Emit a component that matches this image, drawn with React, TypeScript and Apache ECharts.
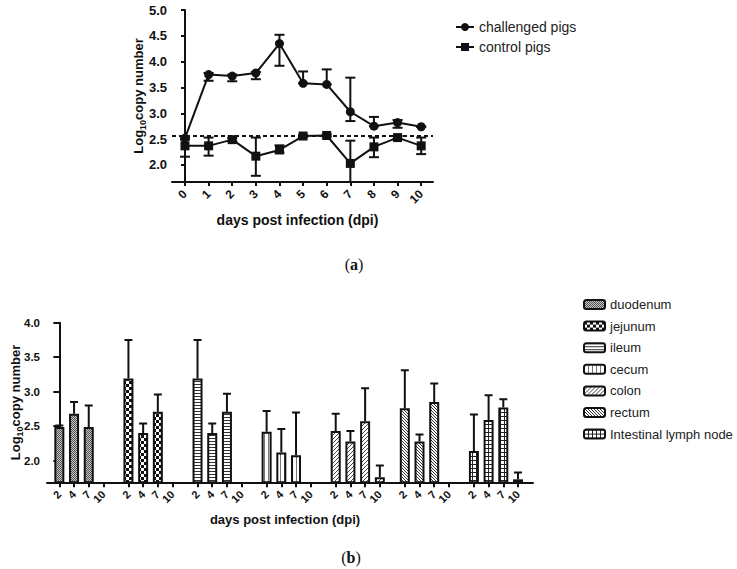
import React, { useEffect, useRef } from "react";
import * as echarts from "echarts";

// ---------- Panel (a) data ----------
const days = [0, 1, 2, 3, 4, 5, 6, 7, 8, 9, 10];
const challenged = [2.52, 3.75, 3.72, 3.78, 4.35, 3.58, 3.56, 3.03, 2.75, 2.82, 2.74];
const challengedLow = [2.49, 3.63, 3.62, 3.66, 3.92, 3.58, 3.56, 2.85, 2.75, 2.72, 2.74];
const challengedHigh = [2.55, 3.78, 3.75, 3.8, 4.52, 3.81, 3.85, 3.69, 2.93, 2.87, 2.74];
const control = [2.37, 2.37, 2.49, 2.17, 2.29, 2.56, 2.57, 2.03, 2.35, 2.53, 2.37];
const controlLow = [2.16, 2.18, 2.46, 1.79, 2.24, 2.54, 2.55, 1.55, 2.15, 2.5, 2.21];
const controlHigh = [2.53, 2.53, 2.52, 2.53, 2.38, 2.58, 2.59, 2.47, 2.53, 2.56, 2.53];
const detectionLimit = 2.56;
const yTicksA = [2.0, 2.5, 3.0, 3.5, 4.0, 4.5, 5.0];

// ---------- Panel (b) data ----------
const tissues = ["duodenum", "jejunum", "ileum", "cecum", "colon", "rectum", "Intestinal lymph node"];
const tissueDays = ["2", "4", "7", "10"];
const duodenum = [2.49, 2.68, 2.49, 1.7];
const duodenumErr = [0.02, 0.17, 0.31, 0];
const jejunum = [3.19, 2.4, 2.71, 1.7];
const jejunumErr = [0.56, 0.14, 0.25, 0];
const ileum = [3.19, 2.4, 2.71, 1.7];
const ileumErr = [0.56, 0.14, 0.26, 0];
const cecum = [2.42, 2.12, 2.08, 1.7];
const cecumErr = [0.3, 0.34, 0.62, 0];
const colon = [2.43, 2.28, 2.57, 1.76];
const colonErr = [0.25, 0.15, 0.48, 0.17];
const rectum = [2.76, 2.28, 2.85, 1.7];
const rectumErr = [0.55, 0.1, 0.27, 0];
const lymphNode = [2.14, 2.59, 2.77, 1.73];
const lymphNodeErr = [0.53, 0.36, 0.12, 0.1];
const yTicksB = [2.0, 2.5, 3.0, 3.5, 4.0];

const tissueValues = [duodenum, jejunum, ileum, cecum, colon, rectum, lymphNode];
const tissueErrs = [duodenumErr, jejunumErr, ileumErr, cecumErr, colonErr, rectumErr, lymphNodeErr];

const FONT = "'Liberation Sans', Arial, sans-serif";
const INK = "#111";
const GROUP_STEP = 4.7;
const X_MAX_B = 32.22;
const slot = (g: number, k: number) => Math.round((g * GROUP_STEP + k) * 100) / 100;

function pattern(w: number, h: number, draw: (ctx: CanvasRenderingContext2D) => void) {
  const c = document.createElement("canvas");
  c.width = w;
  c.height = h;
  const ctx = c.getContext("2d")!;
  ctx.fillStyle = "#fff";
  ctx.fillRect(0, 0, w, h);
  draw(ctx);
  return { image: c.toDataURL(), repeat: "repeat", imageWidth: w, imageHeight: h } as any;
}

function makePatterns() {
  return [
    // duodenum: fine gray stipple
    pattern(2, 2, (ctx) => {
      ctx.fillStyle = "#c4c4c4";
      ctx.fillRect(0, 0, 2, 2);
      ctx.fillStyle = "#555";
      ctx.fillRect(0, 0, 1, 1);
      ctx.fillRect(1, 1, 1, 1);
    }),
    // jejunum: bold checker
    pattern(6, 6, (ctx) => {
      ctx.fillStyle = "#111";
      ctx.fillRect(0, 0, 3, 3);
      ctx.fillRect(3, 3, 3, 3);
    }),
    // ileum: horizontal lines
    pattern(4, 3, (ctx) => {
      ctx.fillStyle = "#333";
      ctx.fillRect(0, 0, 4, 1);
    }),
    // cecum: vertical lines
    pattern(4, 4, (ctx) => {
      ctx.fillStyle = "#777";
      ctx.fillRect(0, 0, 1, 4);
    }),
    // colon: forward diagonal
    pattern(4, 4, (ctx) => {
      ctx.fillStyle = "#444";
      for (let i = 0; i < 4; i++) ctx.fillRect(i, 3 - i, 1, 1);
    }),
    // rectum: back diagonal
    pattern(3, 3, (ctx) => {
      ctx.fillStyle = "#333";
      for (let i = 0; i < 3; i++) ctx.fillRect(i, i, 1, 1);
    }),
    // lymph node: grid
    pattern(4, 4, (ctx) => {
      ctx.fillStyle = "#222";
      ctx.fillRect(0, 0, 4, 1);
      ctx.fillRect(0, 0, 1, 4);
    }),
  ];
}

const yName = "{t|Log}{s|10}{t|copy number}";
const yNameRich = {
  t: { fontFamily: FONT, fontWeight: "bold", fontSize: 13, color: INK, lineHeight: 18, verticalAlign: "middle" },
  s: { fontFamily: FONT, fontWeight: "bold", fontSize: 9, color: INK, lineHeight: 9, verticalAlign: "bottom" },
};

export default function App() {
  const ref = useRef<HTMLDivElement>(null);
  useEffect(() => {
    if (!ref.current) return;
    const chart = echarts.init(ref.current, undefined, { renderer: "svg" });
    const pats = makePatterns();
    const slots = tissues.flatMap((_, g) => tissueDays.map((_, k) => slot(g, k)));
    const slotLabel = (v: number) => {
      const i = slots.findIndex((s) => Math.abs(s - v) < 0.01);
      return i < 0 ? "" : tissueDays[i % 4];
    };

    const errBarsA = (low: number[], high: number[]) =>
      days.map((d, i) => [d, low[i], high[i]]);

    const renderErrA = (params: any, api: any) => {
      const x = api.value(0);
      const lo = api.coord([x, api.value(1)]);
      const hi = api.coord([x, api.value(2)]);
      const st = { stroke: INK, lineWidth: 2 };
      return {
        type: "group",
        children: [
          { type: "line", shape: { x1: lo[0], y1: lo[1], x2: hi[0], y2: hi[1] }, style: st },
          { type: "line", shape: { x1: lo[0] - 5, y1: lo[1], x2: lo[0] + 5, y2: lo[1] }, style: st },
          { type: "line", shape: { x1: hi[0] - 5, y1: hi[1], x2: hi[0] + 5, y2: hi[1] }, style: st },
        ],
      };
    };

    const renderErrB = (params: any, api: any) => {
      const x = api.value(0);
      const lo = api.coord([x, api.value(1)]);
      const hi = api.coord([x, api.value(2)]);
      const st = { stroke: INK, lineWidth: 2 };
      return {
        type: "group",
        children: [
          { type: "line", shape: { x1: lo[0], y1: lo[1], x2: hi[0], y2: hi[1] }, style: st },
          { type: "line", shape: { x1: hi[0] - 4, y1: hi[1], x2: hi[0] + 4, y2: hi[1] }, style: st },
        ],
      };
    };

    const errDataB: number[][] = [];
    tissueValues.forEach((vals, g) =>
      vals.forEach((v, k) => {
        const e = tissueErrs[g][k];
        if (e > 0) errDataB.push([slot(g, k), v, v + e]);
      })
    );

    const axisLine = { show: true, lineStyle: { color: INK, width: 2 } };
    const tickStyle = { color: INK, width: 2 };

    const option: any = {
      animation: false,
      backgroundColor: "#fff",
      grid: [
        { left: 172, top: 10, width: 261, height: 172, containLabel: false, outerBoundsMode: "none" },
        { left: 47, top: 322.7, width: 486, height: 159.6, containLabel: false, outerBoundsMode: "none" },
      ],
      legend: [
        {
          data: ["challenged pigs", "control pigs"],
          orient: "vertical",
          left: 450,
          top: 15,
          itemWidth: 18,
          itemHeight: 10,
          itemGap: 6,
          textStyle: { fontFamily: FONT, fontSize: 14, color: "#222" },
          selectedMode: false,
        },
        {
          data: tissues,
          orient: "vertical",
          left: 578,
          top: 293,
          itemWidth: 21,
          itemHeight: 9,
          itemGap: 8.6,
          textStyle: { fontFamily: FONT, fontSize: 13, color: "#222" },
          selectedMode: false,
        },
      ],
      xAxis: [
        {
          type: "value",
          gridIndex: 0,
          min: -0.55,
          max: 10.5,
          axisLine,
          axisTick: { show: true, customValues: days, length: 4, lineStyle: tickStyle },
          axisLabel: {
            customValues: days,
            rotate: 45,
            margin: 10,
            showMinLabel: true,
            showMaxLabel: true,
            hideOverlap: false,
            fontFamily: FONT,
            fontWeight: "bold",
            fontSize: 12,
            color: INK,
          },
          splitLine: { show: false },
          name: "days post infection (dpi)",
          nameLocation: "middle",
          nameGap: 31,
          nameMoveOverlap: false,
          nameTextStyle: {
            fontFamily: FONT,
            fontWeight: "bold",
            fontSize: 14,
            color: INK,
            verticalAlign: "top",
            padding: [0, 10, 0, 0],
          },
        },
        {
          type: "value",
          gridIndex: 1,
          min: -0.84,
          max: X_MAX_B,
          axisLine,
          axisTick: { show: true, customValues: slots, length: 5, lineStyle: tickStyle },
          axisLabel: {
            customValues: [...slots, X_MAX_B],
            formatter: (v: number) => slotLabel(v),
            rotate: 45,
            margin: 10,
            showMinLabel: true,
            hideOverlap: false,
            fontFamily: FONT,
            fontWeight: "bold",
            fontSize: 11,
            color: INK,
          },
          splitLine: { show: false },
          name: "days post infection (dpi)",
          nameLocation: "middle",
          nameGap: 31,
          nameMoveOverlap: false,
          nameTextStyle: {
            fontFamily: FONT,
            fontWeight: "bold",
            fontSize: 13,
            color: INK,
            verticalAlign: "top",
            padding: [0, 10, 0, 0],
          },
        },
      ],
      yAxis: [
        {
          type: "value",
          gridIndex: 0,
          min: 1.67,
          max: 5,
          axisLine,
          axisTick: { show: true, customValues: yTicksA, length: 4, lineStyle: tickStyle },
          axisLabel: {
            customValues: yTicksA,
            formatter: (v: number) => v.toFixed(1),
            margin: 5,
            showMinLabel: true,
            showMaxLabel: true,
            fontFamily: FONT,
            fontWeight: "bold",
            fontSize: 13,
            color: INK,
          },
          splitLine: { show: false },
          name: yName,
          nameLocation: "middle",
          nameGap: 25,
          nameMoveOverlap: false,
          nameTextStyle: { rich: yNameRich },
        },
        {
          type: "value",
          gridIndex: 1,
          min: 1.687,
          max: 4,
          axisLine,
          axisTick: { show: true, customValues: yTicksB, length: 6, lineStyle: tickStyle },
          axisLabel: {
            customValues: yTicksB,
            formatter: (v: number) => v.toFixed(1),
            margin: 7,
            showMinLabel: true,
            showMaxLabel: true,
            fontFamily: FONT,
            fontWeight: "bold",
            fontSize: 11.5,
            color: INK,
          },
          splitLine: { show: false },
          name: yName,
          nameLocation: "middle",
          nameGap: 23,
          nameMoveOverlap: false,
          nameTextStyle: { rich: yNameRich },
        },
      ],
      series: [
        {
          type: "custom",
          xAxisIndex: 0,
          yAxisIndex: 0,
          renderItem: renderErrA,
          data: errBarsA(challengedLow, challengedHigh),
          encode: { x: 0, y: [1, 2] },
          clip: true,
          silent: true,
        },
        {
          type: "custom",
          xAxisIndex: 0,
          yAxisIndex: 0,
          renderItem: renderErrA,
          data: errBarsA(controlLow, controlHigh),
          encode: { x: 0, y: [1, 2] },
          clip: true,
          silent: true,
        },
        {
          name: "challenged pigs",
          type: "line",
          xAxisIndex: 0,
          yAxisIndex: 0,
          data: days.map((d, i) => [d, challenged[i]]),
          symbol: "circle",
          symbolSize: 9,
          lineStyle: { color: INK, width: 2 },
          itemStyle: { color: INK },
          z: 3,
          markLine: {
            silent: true,
            symbol: "none",
            label: { show: false },
            lineStyle: { color: INK, width: 2, type: [4, 3] },
            data: [{ yAxis: detectionLimit }],
          },
        },
        {
          name: "control pigs",
          type: "line",
          xAxisIndex: 0,
          yAxisIndex: 0,
          data: days.map((d, i) => [d, control[i]]),
          symbol: "rect",
          symbolSize: 9,
          lineStyle: { color: INK, width: 2 },
          itemStyle: { color: INK },
          z: 3,
        },
        ...tissues.map((name, g) => ({
          name,
          type: "bar",
          xAxisIndex: 1,
          yAxisIndex: 1,
          barWidth: 10,
          barGap: "-100%",
          clip: true,
          data: tissueValues[g].map((v, k) => [slot(g, k), v]),
          itemStyle: { color: pats[g], borderColor: INK, borderWidth: 2 },
        })),
        {
          type: "custom",
          xAxisIndex: 1,
          yAxisIndex: 1,
          renderItem: renderErrB,
          data: errDataB,
          encode: { x: 0, y: [1, 2] },
          clip: true,
          silent: true,
          z: 5,
        },
      ],
      graphic: [
        {
          type: "text",
          x: 354,
          y: 264,
          style: {
            text: "{n|(}{b|a}{n|)}",
            align: "center",
            verticalAlign: "middle",
            rich: {
              n: { fontFamily: "'Liberation Serif', serif", fontSize: 16, fill: INK },
              b: { fontFamily: "'Liberation Serif', serif", fontSize: 16, fontWeight: "bold", fill: INK },
            },
          },
        },
        {
          type: "text",
          x: 351,
          y: 557,
          style: {
            text: "{n|(}{b|b}{n|)}",
            align: "center",
            verticalAlign: "middle",
            rich: {
              n: { fontFamily: "'Liberation Serif', serif", fontSize: 16, fill: INK },
              b: { fontFamily: "'Liberation Serif', serif", fontSize: 16, fontWeight: "bold", fill: INK },
            },
          },
        },
      ],
    };
    chart.setOption(option);
    return () => chart.dispose();
  }, []);
  return (
    <div
      ref={ref}
      style={{ position: "fixed", left: 0, top: 0, width: 737, height: 569, background: "#fff" }}
    />
  );
}
